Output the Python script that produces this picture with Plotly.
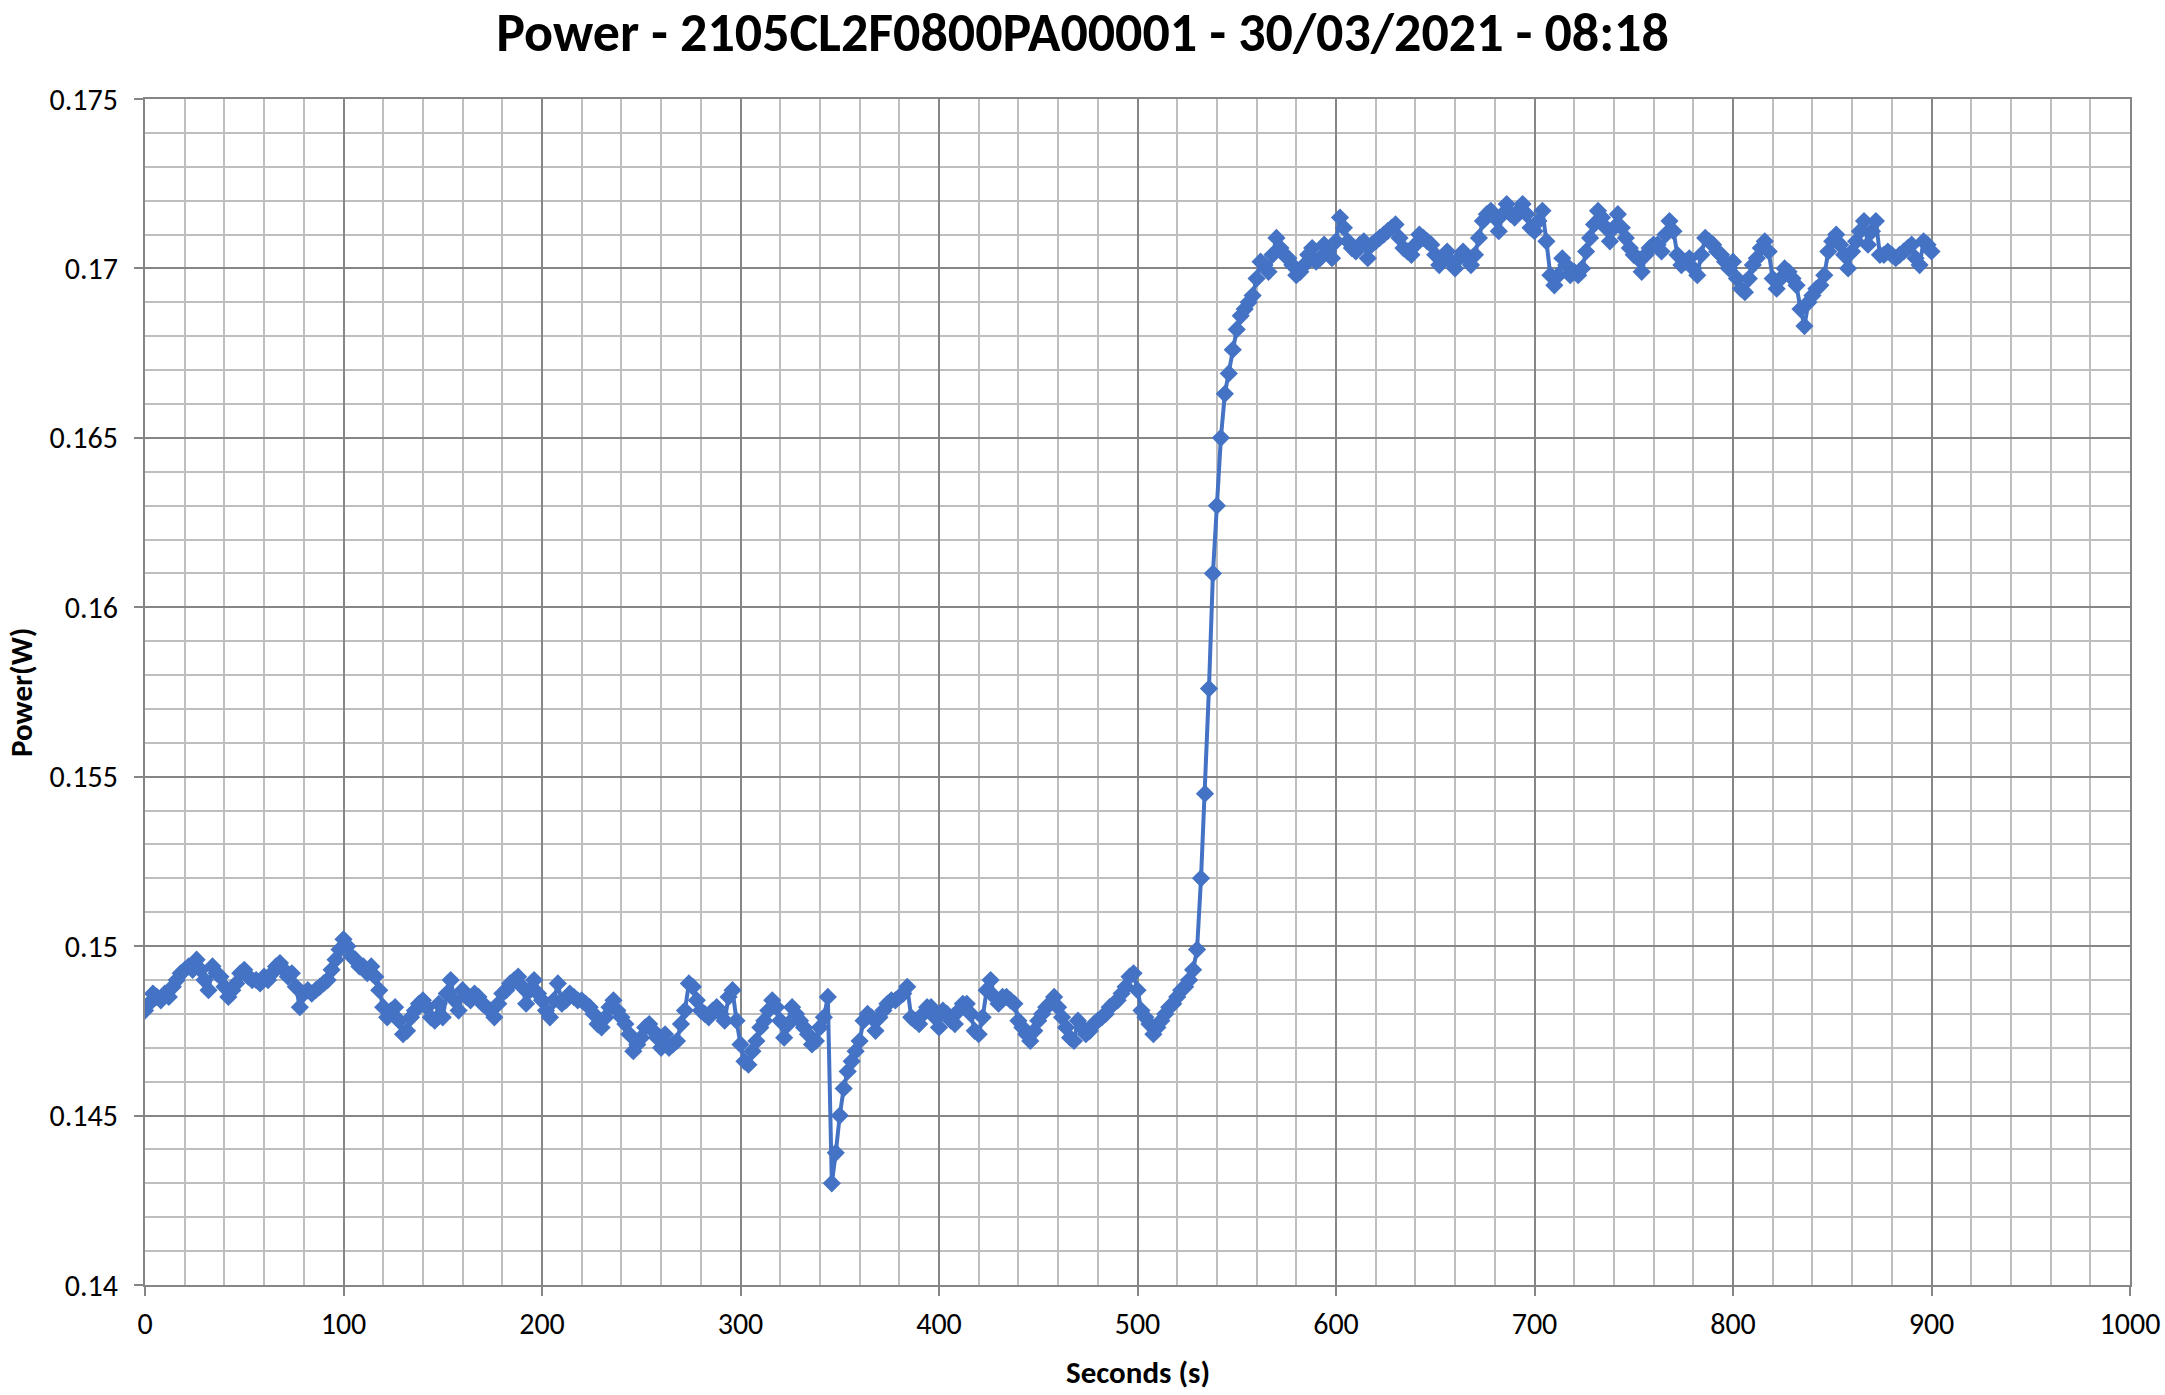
import plotly.graph_objects as go

# ---- data, one sample every 2 s ----
SAMPLE_STEP_S = 2

power_0_130 = [
    0.1481, 0.1483, 0.1486, 0.1485, 0.1484, 0.1486, 0.1485, 0.1488, 0.1490, 0.1492,
    0.1493, 0.1494, 0.1493, 0.1496, 0.1493, 0.1490, 0.1487, 0.1494, 0.1492, 0.1491,
    0.1488, 0.1485, 0.1487, 0.1489, 0.1492, 0.1493, 0.1491, 0.1490, 0.1490, 0.1489,
    0.1491, 0.1490, 0.1492, 0.1494, 0.1495, 0.1493, 0.1491, 0.1492, 0.1488, 0.1482,
    0.1486, 0.1487, 0.1486, 0.1487, 0.1488, 0.1489, 0.1490, 0.1493, 0.1496, 0.1499,
    0.1502, 0.1500, 0.1497, 0.1496, 0.1494, 0.1494, 0.1492, 0.1494, 0.1491, 0.1487,
    0.1482, 0.1479, 0.1481, 0.1482, 0.1478, 0.1474,
]
power_132_260 = [
    0.1475, 0.1479, 0.1481, 0.1483, 0.1484, 0.1482, 0.1479, 0.1478, 0.1483, 0.1479,
    0.1486, 0.1490, 0.1484, 0.1481, 0.1487, 0.1485, 0.1484, 0.1486, 0.1485, 0.1483,
    0.1482, 0.1481, 0.1479, 0.1483, 0.1486, 0.1487, 0.1489, 0.1490, 0.1491, 0.1488,
    0.1483, 0.1487, 0.1490, 0.1486, 0.1484, 0.1481, 0.1479, 0.1484, 0.1489, 0.1483,
    0.1484, 0.1486, 0.1485, 0.1484, 0.1484, 0.1483, 0.1482, 0.1480, 0.1477, 0.1476,
    0.1479, 0.1482, 0.1484, 0.1481, 0.1479, 0.1477, 0.1474, 0.1469, 0.1471, 0.1473,
    0.1476, 0.1477, 0.1475, 0.1473, 0.1470,
]
power_262_390 = [
    0.1474, 0.1470, 0.1471, 0.1472, 0.1477, 0.1481, 0.1489, 0.1488, 0.1484, 0.1481,
    0.1480, 0.1479, 0.1481, 0.1482, 0.1480, 0.1478, 0.1485, 0.1487, 0.1478, 0.1471,
    0.1466, 0.1465, 0.1469, 0.1472, 0.1476, 0.1478, 0.1481, 0.1484, 0.1482, 0.1478,
    0.1473, 0.1477, 0.1482, 0.1480, 0.1478, 0.1476, 0.1474, 0.1471, 0.1472, 0.1476,
    0.1479, 0.1485, 0.1430, 0.1439, 0.1450, 0.1458, 0.1463, 0.1466, 0.1469, 0.1472,
    0.1478, 0.1480, 0.1479, 0.1475, 0.1479, 0.1481, 0.1483, 0.1484, 0.1484, 0.1485,
    0.1486, 0.1488, 0.1479, 0.1478, 0.1477,
]
power_392_560 = [
    0.1480, 0.1482, 0.1482, 0.1479, 0.1476, 0.1481, 0.1480, 0.1478, 0.1477, 0.1481,
    0.1483, 0.1483, 0.1480, 0.1475, 0.1474, 0.1479, 0.1487, 0.1490, 0.1485, 0.1483,
    0.1485, 0.1485, 0.1484, 0.1483, 0.1478, 0.1476, 0.1474, 0.1472, 0.1475, 0.1478,
    0.1480, 0.1482, 0.1483, 0.1485, 0.1482, 0.1479, 0.1476, 0.1473, 0.1472, 0.1478,
    0.1476, 0.1474, 0.1475, 0.1477, 0.1478, 0.1479, 0.1480, 0.1482, 0.1483, 0.1484,
    0.1486, 0.1488, 0.1491, 0.1492, 0.1487, 0.1481, 0.1479, 0.1477, 0.1474, 0.1476,
    0.1478, 0.1480, 0.1482, 0.1483, 0.1485, 0.1487, 0.1488, 0.1490, 0.1493, 0.1499,
    0.1520, 0.1545, 0.1576, 0.1610, 0.1630, 0.1650, 0.1663, 0.1669, 0.1676, 0.1682,
    0.1686, 0.1688, 0.1690, 0.1692, 0.1697,
]
power_562_802 = [
    0.1702, 0.1701, 0.1699, 0.1704, 0.1709, 0.1706, 0.1704, 0.1703, 0.1701, 0.1698,
    0.1699, 0.1701, 0.1704, 0.1706, 0.1702, 0.1703, 0.1707, 0.1705, 0.1703, 0.1708,
    0.1715, 0.1712, 0.1708, 0.1706, 0.1705, 0.1707, 0.1708, 0.1703, 0.1707, 0.1708,
    0.1709, 0.1710, 0.1711, 0.1712, 0.1713, 0.1709, 0.1706, 0.1705, 0.1704, 0.1707,
    0.1710, 0.1709, 0.1708, 0.1707, 0.1704, 0.1701, 0.1703, 0.1705, 0.1702, 0.1700,
    0.1703, 0.1705, 0.1703, 0.1701, 0.1704, 0.1709, 0.1714, 0.1716, 0.1717, 0.1715,
    0.1711, 0.1716, 0.1719, 0.1716, 0.1715, 0.1717, 0.1719, 0.1716, 0.1712, 0.1711,
    0.1714, 0.1717, 0.1708, 0.1698, 0.1695, 0.1698, 0.1703, 0.1701, 0.1698, 0.1699,
    0.1698, 0.1700, 0.1705, 0.1709, 0.1713, 0.1717, 0.1715, 0.1712, 0.1708, 0.1712,
    0.1716, 0.1712, 0.1709, 0.1706, 0.1704, 0.1703, 0.1699, 0.1704, 0.1706, 0.1707,
    0.1707, 0.1705, 0.1710, 0.1714, 0.1711, 0.1704, 0.1701, 0.1702, 0.1703, 0.1700,
    0.1698, 0.1704, 0.1709, 0.1708, 0.1707, 0.1705, 0.1704, 0.1702, 0.1700, 0.1702,
    0.1697,
]
power_804_900 = [
    0.1694, 0.1693, 0.1697, 0.1701, 0.1703, 0.1706, 0.1708, 0.1705, 0.1697, 0.1694,
    0.1697, 0.1700, 0.1699, 0.1697, 0.1695, 0.1688, 0.1683, 0.1690, 0.1692, 0.1694,
    0.1695, 0.1698, 0.1705, 0.1708, 0.1710, 0.1707, 0.1704, 0.1700, 0.1705, 0.1708,
    0.1711, 0.1714, 0.1707, 0.1711, 0.1714, 0.1704, 0.1704, 0.1705, 0.1704, 0.1703,
    0.1704, 0.1705, 0.1706, 0.1707, 0.1703, 0.1701, 0.1708, 0.1707, 0.1705,
]

power_w = (power_0_130 + power_132_260 + power_262_390 + power_392_560
           + power_562_802 + power_804_900)
seconds = [i * SAMPLE_STEP_S for i in range(len(power_w))]

x_tick_vals = [0, 100, 200, 300, 400, 500, 600, 700, 800, 900, 1000]
x_tick_text = ["0", "100", "200", "300", "400", "500", "600", "700", "800", "900", "1000"]
y_tick_vals = [0.14, 0.145, 0.15, 0.155, 0.16, 0.165, 0.17, 0.175]
y_tick_text = ["0.14", "0.145", "0.15", "0.155", "0.16", "0.165", "0.17", "0.175"]

TITLE = "Power - 2105CL2F0800PA00001 - 30/03/2021 - 08:18"
X_TITLE = "Seconds (s)"
Y_TITLE = "Power(W)"

# ---- style ----
FONT = "Carlito, Lato, 'Open Sans', sans-serif"
BLUE = "#4472C4"
MAJOR = "#868686"
MINOR = "#BEBEBE"

fig = go.Figure()
fig.add_trace(go.Scatter(
    x=seconds, y=power_w, mode="lines+markers",
    line=dict(color=BLUE, width=4),
    marker=dict(symbol="diamond", size=14, color=BLUE, line=dict(width=0)),
    showlegend=False,
))

W, H = 2165, 1395
L, R, T, B = 145, 35, 99, 110

axis_common = dict(
    showgrid=True, gridcolor=MAJOR, gridwidth=2,
    showline=True, linecolor=MAJOR, linewidth=2, mirror=True,
    ticks="outside", ticklen=9, tickwidth=2, tickcolor=MAJOR,
    zeroline=False, automargin=False,
    tickfont=dict(family=FONT, size=30, color="#000000"),
)

fig.update_layout(
    width=W, height=H,
    margin=dict(l=L, r=R, t=T, b=B, autoexpand=False),
    paper_bgcolor="white", plot_bgcolor="white",
    title=dict(text="<b>" + TITLE + "</b>", x=0.5, xanchor="center",
               y=1 - 32 / H, yanchor="middle",
               font=dict(family=FONT, size=54, color="#000000")),
    xaxis=dict(range=[0, 1000], tickvals=x_tick_vals, ticktext=x_tick_text,
               minor=dict(dtick=20, showgrid=True, gridcolor=MINOR, gridwidth=2, ticks=""),
               ticklabelstandoff=2, **axis_common),
    yaxis=dict(range=[0.14, 0.175], tickvals=y_tick_vals, ticktext=y_tick_text,
               minor=dict(dtick=0.001, showgrid=True, gridcolor=MINOR, gridwidth=2, ticks=""),
               ticklabelstandoff=10, **axis_common),
    annotations=[
        dict(text="<b>" + X_TITLE + "</b>", xref="paper", yref="paper",
             x=0.5, y=-(1372 - (H - B)) / (H - T - B), xanchor="center", yanchor="middle",
             showarrow=False, font=dict(family=FONT, size=31, color="#000000")),
        dict(text="<b>" + Y_TITLE + "</b>", xref="paper", yref="paper",
             x=-(L - 21) / (W - L - R), y=0.5, xanchor="center", yanchor="middle",
             textangle=-90, showarrow=False,
             font=dict(family=FONT, size=31, color="#000000")),
    ],
)

fig.write_html("out.html", config={"displayModeBar": False},
               post_script="document.body.style.margin='0';")
